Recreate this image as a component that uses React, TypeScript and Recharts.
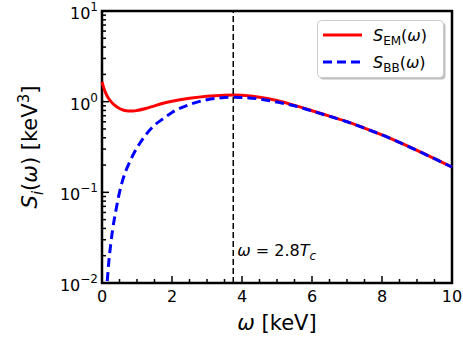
import { LineChart, Line, XAxis, YAxis, ReferenceLine, ReferenceArea } from "recharts";

// S_EM(omega)
const emOmega = [0, 0.05, 0.1, 0.15, 0.2, 0.3, 0.4, 0.5, 0.6, 0.7, 0.8, 0.9, 1.0, 1.25, 1.5, 1.75, 2, 2.5, 3, 3.5, 3.75, 4, 4.5, 5, 5.5, 6, 6.5, 7, 7.5, 8, 8.5, 9, 9.5, 10];
const emValues = [1.65, 1.42, 1.26, 1.15, 1.07, 0.96, 0.89, 0.84, 0.81, 0.795, 0.79, 0.79, 0.8, 0.84, 0.9, 0.96, 1.01, 1.09, 1.15, 1.18, 1.185, 1.175, 1.12, 1.03, 0.91, 0.795, 0.692, 0.602, 0.511, 0.431, 0.356, 0.291, 0.236, 0.19];

// S_BB(omega)
const bbOmega = [0.15, 0.2, 0.25, 0.3, 0.4, 0.5, 0.6, 0.8, 1.0, 1.25, 1.5, 1.75, 2, 2.5, 3, 3.5, 3.75, 4, 4.5, 5, 5.5, 6, 6.5, 7, 7.5, 8, 8.5, 9, 9.5, 10];
const bbValues = [0.0105, 0.018, 0.027, 0.038, 0.064, 0.1, 0.14, 0.22, 0.31, 0.43, 0.55, 0.65, 0.76, 0.93, 1.05, 1.11, 1.12, 1.115, 1.07, 0.99, 0.9, 0.79, 0.69, 0.6, 0.51, 0.43, 0.355, 0.29, 0.235, 0.19];

const xMajor = [0, 2, 4, 6, 8, 10];
const xMinor = [0.5, 1, 1.5, 2.5, 3, 3.5, 4.5, 5, 5.5, 6.5, 7, 7.5, 8.5, 9, 9.5];
const yMajor = [0.01, 0.1, 1, 10];
const yExponents = ["\u22122", "\u22121", "0", "1"];
const yMinor = [0.02, 0.03, 0.04, 0.05, 0.06, 0.07, 0.08, 0.09, 0.2, 0.3, 0.4, 0.5, 0.6, 0.7, 0.8, 0.9, 2, 3, 4, 5, 6, 7, 8, 9];
const peakOmega = 3.75;

const emData = emOmega.map((w, i) => ({ w, s: emValues[i] }));
const bbData = bbOmega.map((w, i) => ({ w, s: bbValues[i] }));

const FONT = "DejaVu Sans, sans-serif";

// full-page figure, like the matplotlib canvas
if (typeof document !== "undefined") document.body.style.margin = "0";

function XTick(props: any) {
  const { x, y, payload } = props;
  const major = xMajor.includes(payload.value);
  return (
    <g>
      <line x1={x} x2={x} y1={y} y2={y - (major ? 7 : 4)} stroke="#000" strokeWidth={1.5} />
      {major && (
        <text x={x} y={y + 19} textAnchor="middle" fontSize={16} fontFamily={FONT} fill="#000">
          {payload.value}
        </text>
      )}
    </g>
  );
}

function YTick(props: any) {
  const { x, y, payload } = props;
  const idx = yMajor.indexOf(payload.value);
  const major = idx >= 0;
  return (
    <g>
      <line x1={x} x2={x + (major ? 7 : 4)} y1={y} y2={y} stroke="#000" strokeWidth={1.5} />
      {major && (
        <text x={x - 4} y={y + 8} textAnchor="end" fontSize={16} fontFamily={FONT} fill="#000">
          <tspan>10</tspan>
          <tspan dy={-8} fontSize={12}>{yExponents[idx]}</tspan>
        </text>
      )}
    </g>
  );
}

function PeakLabel(props: any) {
  const { viewBox } = props;
  return (
    <text x={viewBox.x + 4} y={viewBox.y + viewBox.height - 27} fontSize={16} fontFamily={FONT} fill="#000">
      <tspan fontStyle="italic">ω</tspan>
      <tspan> = 2.8</tspan>
      <tspan fontStyle="italic">T</tspan>
      <tspan fontStyle="italic" fontSize={12} dy={4}>c</tspan>
    </text>
  );
}

function LegendBox() {
  return (
    <svg width={132} height={63} style={{ display: "block", overflow: "visible" }}>
      <rect x={2.5} y={2.5} width={126} height={57} rx={4} fill="#000" opacity={0.25} />
      <rect x={0.5} y={0.5} width={126} height={57} rx={4} fill="#fff" stroke="#cccccc" />
      <line x1={6} x2={45} y1={15} y2={15} stroke="#ff0000" strokeWidth={3} />
      <line x1={6} x2={45} y1={42} y2={42} stroke="#0000ff" strokeWidth={3} strokeDasharray="9 5" />
      <text x={56} y={21} fontSize={16} fontFamily={FONT} fill="#000">
        <tspan fontStyle="italic">S</tspan>
        <tspan fontSize={12} dy={4}>EM</tspan>
        <tspan dy={-4}>(</tspan>
        <tspan fontStyle="italic">ω</tspan>
        <tspan>)</tspan>
      </text>
      <text x={56} y={48} fontSize={16} fontFamily={FONT} fill="#000">
        <tspan fontStyle="italic">S</tspan>
        <tspan fontSize={12} dy={4}>BB</tspan>
        <tspan dy={-4}>(</tspan>
        <tspan fontStyle="italic">ω</tspan>
        <tspan>)</tspan>
      </text>
    </svg>
  );
}

export default function App() {
  return (
    <div style={{ position: "relative", width: 463, height: 347, fontFamily: FONT, overflow: "hidden" }}>
      <LineChart width={463} height={347} margin={{ top: 11, right: 11, bottom: 0, left: 0 }}>
        <XAxis
          dataKey="w"
          type="number"
          domain={[0, 10]}
          ticks={[...xMajor, ...xMinor]}
          interval={0}
          tick={<XTick />}
          tickLine={false}
          axisLine={false}
          tickSize={0}
          tickMargin={0}
          height={64}
          allowDuplicatedCategory={false}
        />
        <YAxis
          scale="log"
          type="number"
          domain={[0.01, 10]}
          allowDataOverflow
          ticks={[...yMajor, ...yMinor]}
          interval={0}
          tick={<YTick />}
          tickLine={false}
          axisLine={false}
          tickSize={0}
          tickMargin={0}
          width={102}
        />
        <Line data={emData} dataKey="s" stroke="#ff0000" strokeWidth={3} dot={false} isAnimationActive={false} type="monotone" />
        <Line data={bbData} dataKey="s" stroke="#0000ff" strokeWidth={3} strokeDasharray="9 5" dot={false} isAnimationActive={false} type="monotone" />
        <ReferenceLine x={peakOmega} stroke="#000" strokeWidth={1.5} strokeDasharray="6 3" label={<PeakLabel />} />
        <ReferenceArea x1={0} x2={10} y1={0.01} y2={10} fill="none" stroke="#000" strokeWidth={2.5} />
      </LineChart>
      <div style={{ position: "absolute", left: 317, top: 20 }}>
        <LegendBox />
      </div>
      <div
        style={{
          position: "absolute",
          left: 31,
          top: 147,
          transform: "translate(-50%, -50%) rotate(-90deg)",
          whiteSpace: "nowrap",
          fontSize: 21,
        }}
      >
        <i>S</i>
        <sub style={{ fontSize: 15 }}><i>i</i></sub>(<i>ω</i>) [keV<sup style={{ fontSize: 15 }}>3</sup>]
      </div>
      <div
        style={{
          position: "absolute",
          left: 277,
          top: 323,
          transform: "translate(-50%, -50%)",
          whiteSpace: "nowrap",
          fontSize: 21,
        }}
      >
        <i>ω</i> [keV]
      </div>
    </div>
  );
}
